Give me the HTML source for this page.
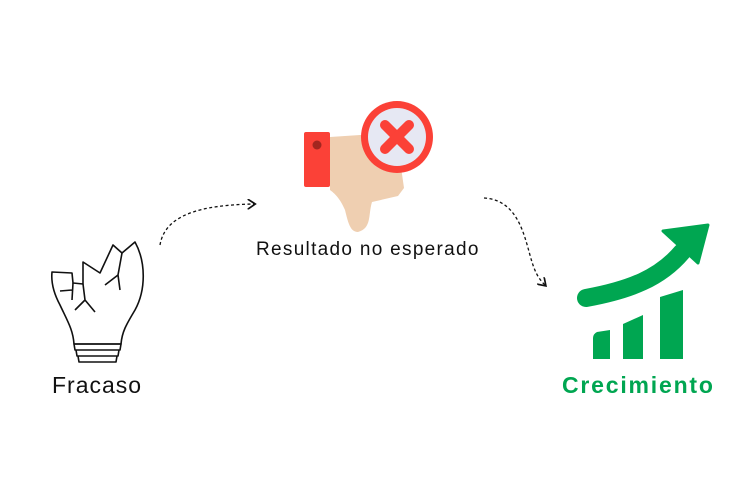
<!DOCTYPE html>
<html><head><meta charset="utf-8"><style>
body{margin:0;width:750px;height:500px;background:#fff;overflow:hidden;position:relative;font-family:"Liberation Sans",sans-serif}
.t{position:absolute;white-space:nowrap;color:#111}
</style></head><body>
<svg width="750" height="500" style="position:absolute;left:0;top:0">
<defs><marker id="ah" markerWidth="8" markerHeight="8" refX="5" refY="4" orient="auto"><path d="M0,0 L6,4 L0,8" fill="none" stroke="#111" stroke-width="1.3"/></marker></defs>
<path d="M160,245 C165,215 200,205 254,204" fill="none" stroke="#111" stroke-width="1.3" stroke-dasharray="3,2.5" marker-end="url(#ah)"/>
<path d="M484,198 C520,200 525,240 532,262 C536,275 540,280 545,285" fill="none" stroke="#111" stroke-width="1.3" stroke-dasharray="3,2.5" marker-end="url(#ah)"/>
<g fill="none" stroke="#111" stroke-width="1.6" stroke-linejoin="round">
<path d="M52,272 L72,273 L73,283 L83,284 L83,262 L100,273 L113,245 L122,253 L135,242 C146,262 146,290 135,310 C126,325 122,332 121,344 L74,344 C73,330 68,322 60,305 C53,292 51,282 52,272 Z"/>
<path d="M74,344 L121,344 L120,350 L75,350 Z M76,350 L119,350 L118,356 L77,356 Z M78,356 L117,356 L116,362 L79,362 Z"/>
<path d="M73,283 L72,300 M83,284 L85,300 L75,310 M85,300 L95,312 M122,253 L118,275 L105,285 M118,275 L120,290 M60,291 L72,290"/>
</g>
<path d="M330,137 L375,134 L400,160 L404,188 L398,196 L372,202 C368,215 372,228 358,232 C350,232 348,222 345,210 C340,198 334,193 330,190 Z" fill="#efcfb1"/>
<rect x="304" y="132" width="26" height="55" rx="2" fill="#fb4137"/>
<circle cx="317" cy="145" r="4.5" fill="#a3261f"/>
<circle cx="397" cy="137" r="36" fill="#fb4137"/>
<circle cx="397" cy="137" r="29" fill="#e6e8f3"/>
<g stroke="#fb4137" stroke-width="10" stroke-linecap="round"><line x1="385" y1="125" x2="409" y2="149"/><line x1="409" y1="125" x2="385" y2="149"/></g>
<g fill="#00a651">
<path d="M586,298 C630,290 660,278 682,252" fill="none" stroke="#00a651" stroke-width="18" stroke-linecap="round"/>
<path d="M663,231 L708,225 L698,263 Z" stroke="#00a651" stroke-width="3" stroke-linejoin="round"/>
<path d="M593,338 Q593,334 597,332 L610,330 L610,359 L593,359 Z"/>
<path d="M623,324 L643,315 L643,359 L623,359 Z"/>
<path d="M660,297 L683,290 L683,359 L660,359 Z"/>
</g>
</svg>
<div class="t" style="left:52px;top:372px;font-size:23px;letter-spacing:1px">Fracaso</div>
<div class="t" style="left:256px;top:239px;font-size:19px;letter-spacing:1.3px">Resultado no esperado</div>
<div class="t" style="left:562px;top:372px;font-size:23px;font-weight:bold;color:#00a651;letter-spacing:1.8px">Crecimiento</div>
</body></html>
